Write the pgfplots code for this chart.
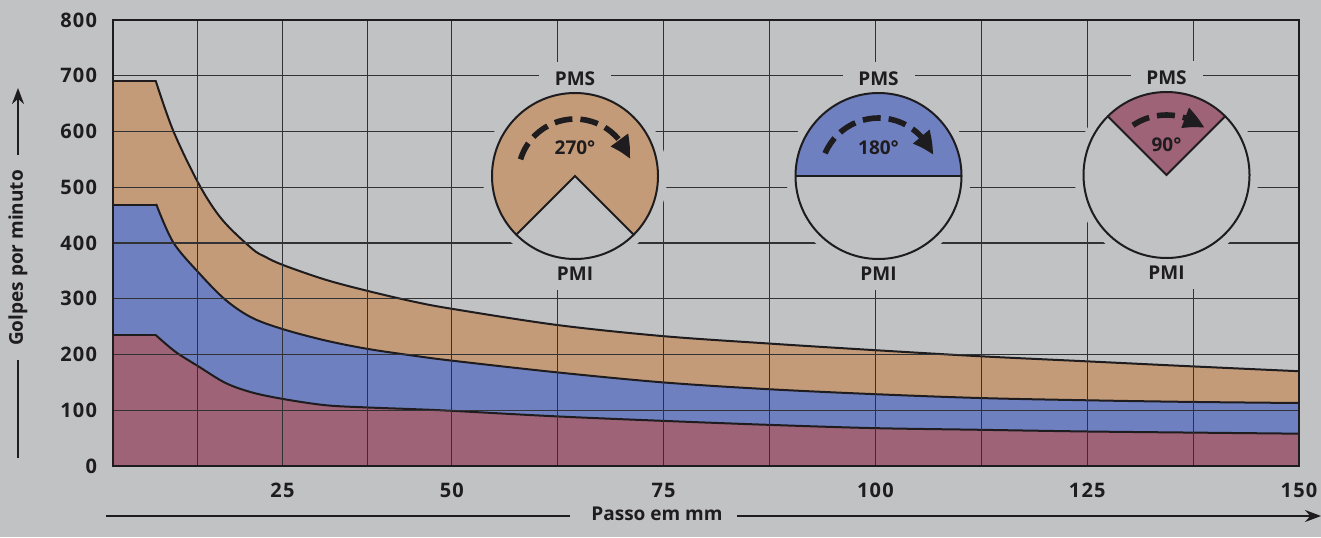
\documentclass[border=0pt]{standalone}
\usepackage{fontspec}
\setmainfont{Open Sans}
\newfontfamily\tickfont{Open Sans}[LetterSpace=6]
\usepackage{pgfplots}
\usepackage{pgfplotstable}
\pgfplotsset{compat=1.18}
\usetikzlibrary{arrows.meta,bending}

\definecolor{bg}{RGB}{193,194,196}
\definecolor{tanc}{RGB}{196,155,120}
\definecolor{bluec}{RGB}{111,128,192}
\definecolor{maroonc}{RGB}{158,99,118}
\definecolor{ink}{RGB}{30,28,30}
\definecolor{gridc}{RGB}{50,50,53}

% golpes por minuto x passo (mm): flat start, then the falling curve
\pgfplotstableread{
x y
0 691
6.3 691
}\tanFlat
\pgfplotstableread{
x y
6.3 691
8.9 601
12.7 505
16.1 442
20.5 390
22.5 375
25.2 360
31.4 334
37.6 314
44.3 295
50 282
62.4 253
74.9 233
87.1 220
99.7 208
112.2 197
124.6 188
137 179
150 170
}\tanData
\pgfplotstableread{
x y
0 469
6.4 469
}\blueFlat
\pgfplotstableread{
x y
6.4 469
8.9 401
12.7 346
16.6 298
20.5 266
25.2 245
31.4 225
37.6 210
44.3 198
50 189
62.4 168
74.9 150
87.1 138
99.7 129
112.2 122
124.6 118
137 115
150 113
}\blueData
\pgfplotstableread{
x y
0 235
6.3 235
}\maroonFlat
\pgfplotstableread{
x y
6.3 235
9.2 205
12.7 178
16.6 149
20.5 132
25.2 120
31.4 109
37.6 105
44.3 102
50 99
62.4 89
74.9 81
87.1 74
99.7 68
112.2 65
124.6 62
137 60
150 58
}\maroonData

\newcommand{\lbl}{\fontsize{9.5}{11}\selectfont\bfseries}

\begin{document}
\begin{tikzpicture}
\fill[bg] (-56.5pt,-35.5pt) rectangle (604pt,233pt);
\begin{axis}[
    scale only axis,
    width=593pt, height=223pt,
    at={(0pt,0pt)}, anchor=south west,
    xmin=0, xmax=150, ymin=0, ymax=800,
    x coord trafo/.code={\pgfmathparse{#1+0.25*max(#1-50,0)}},
    x coord inv trafo/.code={\pgfmathparse{#1-0.2*max(#1-50,0)}},
    xtick={25,50,75,100,125,150},
    xticklabels={25,50,75,100,125,150},
    minor xtick={12.5,37.5,62.5,87.5,112.5,137.5},
    ytick={0,100,200,300,400,500,600,700,800},
    yticklabels={0,100,200,300,400,500,600,700,800},
    grid=both,
    grid style={gridc, line width=0.6pt},
    minor grid style={gridc, line width=0.6pt},
    major tick length=0pt, minor tick length=0pt,
    axis on top,
    axis line style={ink, line width=1.2pt},
    tick label style={font=\fontsize{10}{11}\selectfont\tickfont\bfseries, text=ink},
    xticklabel style={yshift=-5pt},
    yticklabel style={xshift=-4.5pt},
    every axis plot/.append style={line cap=round, line join=round},
]
\addplot[fill=tanc, draw=tanc, line width=0.4pt] table {\tanFlat} \closedcycle;
\addplot[fill=tanc, draw=none, smooth, tension=0.55] table {\tanData} \closedcycle;
\addplot[fill=bluec, draw=bluec, line width=0.4pt] table {\blueFlat} \closedcycle;
\addplot[fill=bluec, draw=none, smooth, tension=0.55] table {\blueData} \closedcycle;
\addplot[fill=maroonc, draw=maroonc, line width=0.4pt] table {\maroonFlat} \closedcycle;
\addplot[fill=maroonc, draw=none, smooth, tension=0.55] table {\maroonData} \closedcycle;
\addplot[ink, line width=1pt] table {\tanFlat};
\addplot[ink, line width=1pt, smooth, tension=0.55] table {\tanData};
\addplot[ink, line width=1pt] table {\blueFlat};
\addplot[ink, line width=1pt, smooth, tension=0.55] table {\blueData};
\addplot[ink, line width=1pt] table {\maroonFlat};
\addplot[ink, line width=1pt, smooth, tension=0.55] table {\maroonData};
\end{axis}

% halos that break the grid round the diagrams
\foreach \cx/\cy in {231/145, 382.75/145, 526.75/145.5}{
  \fill[bg] (\cx pt,\cy pt) circle[radius=46pt];
  \fill[bg] (\cx pt-18pt,\cy pt-57pt) rectangle (\cx pt+18pt,\cy pt+57pt);
  \node[font=\lbl, text=ink] at (\cx pt,\cy pt+48.5pt) {PMS};
  \node[font=\lbl, text=ink] at (\cx pt,\cy pt-49pt) {PMI};
}

% 270 graus
\begin{scope}[shift={(231pt,145pt)}]
  \fill[tanc] (0,0) -- (-45:41.5pt) arc[start angle=-45, end angle=225, radius=41.5pt] -- cycle;
  \draw[ink, line width=1pt] (225:41.5pt) -- (0,0) -- (-45:41.5pt);
  \draw[ink, line width=1pt] (0,0) circle[radius=41.5pt];
  \draw[ink, line width=2.8pt, dash pattern=on 9pt off 4pt, -{Triangle[length=11pt, width=10pt, bend]}]
    (163:28.5pt) arc[start angle=163, end angle=17, radius=28.5pt];
  \node[font=\lbl, text=ink] at (0,14pt) {270°};
\end{scope}

% 180 graus
\begin{scope}[shift={(382.75pt,145pt)}]
  \fill[bluec] (0:41.5pt) arc[start angle=0, end angle=180, radius=41.5pt] -- cycle;
  \draw[ink, line width=1pt] (180:41.5pt) -- (0:41.5pt);
  \draw[ink, line width=1pt] (0,0) circle[radius=41.5pt];
  \draw[ink, line width=2.8pt, dash pattern=on 9pt off 4pt, -{Triangle[length=11pt, width=10pt, bend]}]
    (157:29pt) arc[start angle=157, end angle=21, radius=29pt];
  \node[font=\lbl, text=ink] at (0,14pt) {180°};
\end{scope}

% 90 graus
\begin{scope}[shift={(526.75pt,145.5pt)}]
  \fill[maroonc] (0,0) -- (45:41.5pt) arc[start angle=45, end angle=135, radius=41.5pt] -- cycle;
  \draw[ink, line width=1pt] (135:41.5pt) -- (0,0) -- (45:41.5pt);
  \draw[ink, line width=1pt] (0,0) circle[radius=41.5pt];
  \draw[ink, line width=2.8pt, dash pattern=on 9pt off 4pt, -{Triangle[length=11pt, width=10pt, bend]}]
    (124:30pt) arc[start angle=124, end angle=51, radius=30pt];
  \node[font=\lbl, text=ink] at (0,15pt) {90°};
\end{scope}

\draw[ink, line width=1.2pt] (0,0) rectangle (593pt,223pt);

% eixo x
\draw[ink, line width=1pt] (-3.5pt,-25pt) -- (228.5pt,-25pt);
\node[font=\lbl, text=ink] at (272pt,-24pt) {Passo em mm};
\draw[ink, line width=1pt, -{Stealth[length=8pt, width=6pt]}] (312pt,-25pt) -- (604pt,-25pt);
% eixo y
\draw[ink, line width=1pt] (-47.5pt,4pt) -- (-47.5pt,53pt);
\node[font=\lbl, text=ink, rotate=90] at (-47.5pt,104pt) {Golpes por minuto};
\draw[ink, line width=1pt, -{Stealth[length=8pt, width=6pt]}] (-47.5pt,155.5pt) -- (-47.5pt,189pt);

\pgfresetboundingbox
\path[use as bounding box] (-56.5pt,-35.5pt) rectangle (604pt,233pt);
\end{tikzpicture}
\end{document}
